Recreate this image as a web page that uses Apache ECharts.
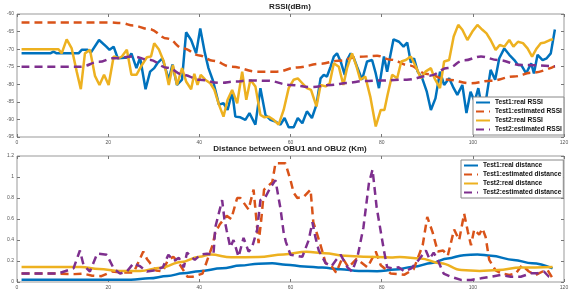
<!DOCTYPE html>
<html>
<head>
<meta charset="UTF-8">
<title>RSSI / distance OBU1-OBU2</title>
<script src="https://cdn.jsdelivr.net/npm/echarts@6/dist/echarts.min.js"></script>
<style>
html, body { margin: 0; padding: 0; background: #fff; }
#main { width: 575px; height: 291px; }
</style>
</head>
<body>
<div id="main"></div>
<script>
// ---- data: [x, value] ----
var rssiReal1 = [[1,-71.2],[7.3,-71.2],[8,-70.7],[8.7,-71.2],[13.5,-71.2],[14.2,-70.2],[15.5,-70.2],[16.2,-71],[18,-67.4],[19.6,-69.3],[20.3,-70.2],[21.2,-69.3],[22.1,-72.6],[24.5,-72.4],[25.1,-71.2],[26.2,-75.4],[27,-72.4],[28.2,-81.4],[29.2,-76.4],[30.1,-75.4],[30.8,-74],[31.9,-72.6],[33.3,-78.7],[34.1,-74.4],[35.1,-80.2],[36.2,-78.7],[37.1,-65.2],[38.2,-67.4],[39.3,-71.2],[40.2,-64.1],[41.2,-71],[42,-75.4],[43,-79],[44.3,-85.8],[45.3,-85.4],[46.2,-87.3],[47.2,-82.1],[47.9,-89.2],[49,-89.4],[50.1,-90.1],[51,-88.2],[52.3,-91.5],[53.4,-81.1],[54.5,-88.7],[55.6,-90.1],[56.7,-90.6],[57.8,-91.5],[58.7,-89.6],[59.6,-92.2],[60.7,-92.2],[61.6,-89.6],[62.6,-91.1],[63.6,-87.7],[64.7,-89.6],[65.7,-85.8],[66.6,-78.3],[67.3,-77.3],[68,-77.8],[68.8,-75],[69.5,-72.1],[70.2,-71.2],[71,-73.5],[71.9,-77.3],[72.4,-73.1],[73.2,-71.2],[73.9,-72.6],[74.6,-75],[75.7,-78.7],[76.8,-73.5],[77.9,-73.1],[78.7,-76.9],[79.4,-81.1],[80.5,-72.1],[81.2,-76.4],[82.6,-67.2],[83.8,-67.9],[84.8,-69.3],[85.6,-68.1],[86.4,-73.8],[87.1,-72.6],[87.9,-76.4],[88.9,-78.3],[89.9,-82.1],[90.8,-87.3],[91.8,-84],[92.8,-76.4],[93.7,-80.2],[94.8,-78.3],[95.8,-81.1],[96.6,-83],[97.7,-80.2],[98.6,-88.2],[99.5,-82.1],[100.4,-84.9],[101.2,-81.1],[102.1,-87.3],[103,-83.5],[103.9,-75.9],[104.9,-78.7],[105.8,-72.6],[106.9,-69.8],[108,-71.6],[109.1,-73.1],[109.9,-74.5],[110.6,-74.5],[111.7,-76.9],[112.8,-74],[113.4,-76.9],[114.2,-71.6],[115.3,-73.1],[116.2,-72.6],[117.1,-71.2],[118,-64.4]];

var rssiEst1 = [[1,-62.4],[10,-62.4],[20,-62.4],[23,-62.6],[25.5,-63.3],[29,-64.3],[33,-67],[36.5,-69.8],[40,-71.8],[43,-73.3],[47,-75],[52.7,-76.4],[57,-76.4],[61.5,-75.2],[66.5,-74.2],[70.5,-73.3],[75,-72.2],[79,-71.9],[82,-73],[86,-74.6],[90,-77.1],[94.5,-78.7],[99.5,-79.7],[104,-79],[109,-77.8],[113,-76.7],[118,-74.8]];

var rssiReal2 = [[1,-70],[9.1,-70],[9.8,-71.2],[10.9,-67.2],[12,-69.8],[13.1,-76.4],[14,-81.4],[14.9,-71.2],[16,-70.2],[17.1,-77.6],[18.1,-80.2],[19.1,-77.3],[20.1,-80.2],[21.2,-72.1],[22.3,-72.6],[23,-72.1],[24.1,-70.2],[25.1,-77.3],[26.2,-77.3],[27.4,-74.5],[28.5,-72.3],[29.4,-72.1],[30.1,-68.3],[31.1,-70],[32.2,-73.5],[33.3,-80.2],[34.2,-74.5],[35.1,-80.2],[36.2,-75.4],[37.1,-79.2],[38.2,-81.4],[38.9,-77],[39.6,-80.2],[40.3,-77.3],[41.3,-78.7],[42.4,-79.7],[43.3,-81.6],[44.3,-85.8],[45.3,-89.2],[46.2,-84.4],[47.2,-81.6],[48.3,-85.4],[49.4,-76.4],[50.3,-84.4],[51.2,-78.7],[52.3,-80.6],[53.4,-88.7],[54.3,-89.4],[55.2,-89.2],[56.3,-90.1],[57.4,-91.5],[58.5,-87.3],[59.6,-81.1],[60.7,-78.7],[61.6,-78.3],[62.6,-79.7],[63.6,-81.1],[64.5,-81.6],[65.7,-86.3],[66.6,-80.2],[67.7,-80.6],[68.6,-79.7],[69.5,-74],[70.6,-75],[71.6,-80.2],[72.4,-75.4],[73.5,-71.2],[74.5,-75],[75.3,-78.7],[76.4,-77.8],[77.5,-83.5],[78.7,-92],[79.8,-87.3],[80.6,-87.3],[81.3,-83],[82.3,-77.3],[83.4,-78.3],[84.3,-73.5],[85.3,-73.1],[86.4,-72.1],[87.5,-75],[88.6,-78.3],[89.6,-76.4],[90.8,-75.4],[91.6,-78.3],[92.8,-81.1],[93.7,-73.5],[94.8,-73.1],[95.8,-66.4],[96.8,-63.1],[97.7,-64.5],[98.8,-67.4],[99.9,-65],[101,-63.1],[102.1,-64.5],[103,-65.5],[103.9,-67.4],[105,-70.2],[105.9,-68.8],[106.9,-69.3],[108,-67.4],[108.9,-69.3],[109.9,-67.9],[111,-68.3],[112,-69.8],[113,-72.1],[114,-69.8],[114.9,-68.3],[115.8,-68.1],[116.9,-67.4],[117.6,-67.2]];

var rssiEst2 = [[1,-75],[14,-75],[18,-73.6],[21,-72.6],[25.5,-72.1],[29,-73],[33,-75.3],[36.5,-77.3],[40,-78.7],[44.5,-79.6],[48,-79.2],[51,-78.9],[55,-79],[60,-80.2],[64.5,-80.8],[69,-80.2],[72.5,-79.6],[76,-79.1],[80,-78.9],[85.5,-78.7],[90.5,-77.6],[94.5,-75.4],[98,-73.2],[101.8,-72.1],[105.5,-73.1],[110.5,-74.5],[118,-74.9]];

var distReal1 = [[1,0.022],[25,0.022],[29,0.035],[33,0.057],[36.5,0.083],[40,0.103],[45,0.13],[49,0.156],[53,0.175],[56,0.178],[59,0.165],[63,0.148],[67,0.137],[71,0.121],[75,0.105],[79,0.103],[83,0.118],[87,0.146],[91,0.18],[94.5,0.225],[98,0.255],[101,0.263],[104,0.25],[109,0.21],[113,0.178],[117.5,0.13]];

var distEst1 = [[1,0.08],[9,0.08],[12.5,0.075],[14.5,0.08],[16.5,0.06],[18.5,0.055],[20.8,0.1],[23.5,0.09],[25.6,0.09],[27.7,0.29],[28.5,0.22],[29.2,0.18],[30.5,0.11],[32,0.1],[33,0.2],[34.3,0.24],[35.5,0.18],[37.4,0.05],[38.5,0.05],[40.7,0.08],[42.9,0.35],[43.5,0.47],[44.5,0.55],[46,0.63],[47,0.6],[48.3,0.8],[49,0.8],[50.8,0.69],[51.9,0.88],[53,0.37],[53.6,0.6],[54.2,0.88],[56,0.95],[56.7,1.13],[58.9,1.13],[60,0.97],[60.7,0.85],[61.5,0.8],[62.9,0.81],[64.4,0.88],[65,0.57],[66.6,0.35],[67.7,0.18],[69,0.15],[70,0.09],[71.4,0.23],[72.7,0.14],[74.5,0.22],[76.9,0.14],[78.7,0.29],[79.8,0.16],[82,0.08],[85,0.07],[87,0.12],[89,0.35],[90,0.62],[91.2,0.47],[92.3,0.29],[93.5,0.3],[94.5,0.25],[95.9,0.5],[97,0.4],[98.1,0.65],[98.9,0.48],[99.6,0.35],[100.3,0.5],[101.4,0.45],[102.1,0.51],[102.8,0.43],[103.6,0.21],[105,0.11],[106.4,0.08],[108,0.067],[109.4,0.08],[110.8,0.16],[112.3,0.1],[113.8,0.067],[115.3,0.1],[116.4,0.114],[117.5,0.035]];

var distReal2 = [[1,0.143],[14,0.143],[18,0.125],[22.5,0.105],[27,0.105],[31.5,0.135],[36,0.19],[40,0.24],[42.5,0.262],[47,0.235],[53,0.238],[58.5,0.263],[63.5,0.288],[67.5,0.273],[72,0.25],[76,0.241],[82,0.233],[84,0.238],[88.5,0.225],[93,0.178],[97.5,0.114],[101.5,0.105],[105.5,0.114],[110.5,0.137],[117.5,0.143]];

var distEst2 = [[1,0.08],[9,0.08],[12.4,0.13],[13.8,0.3],[14.6,0.16],[16,0.1],[17.6,0.27],[19.7,0.26],[21.2,0.13],[22.6,0.08],[24.1,0.1],[25.6,0.18],[26.4,0.16],[27,0.15],[28.5,0.1],[30,0.11],[32,0.14],[33.2,0.26],[34.4,0.2],[35.5,0.23],[36.6,0.14],[37.3,0.28],[39,0.21],[40.2,0.26],[41.7,0.27],[43.1,0.26],[43.5,0.52],[45,0.78],[45.5,0.6],[46,0.49],[46.8,0.33],[47.5,0.4],[48.6,0.24],[49.7,0.42],[50.8,0.29],[51.5,0.32],[52.7,0.5],[53.4,0.78],[54.5,0.81],[55.6,0.9],[56.7,0.97],[57.8,0.7],[58.5,0.47],[59,0.38],[60,0.26],[62.6,0.24],[64,0.4],[64.8,0.57],[65.5,0.42],[66.2,0.3],[67.7,0.18],[69,0.15],[70,0.21],[71,0.26],[72.5,0.14],[73.5,0.1],[74.7,0.24],[76,0.52],[77.2,0.94],[78,1.07],[78.5,0.87],[78.9,0.71],[79.8,0.48],[80.5,0.3],[81.2,0.14],[82.5,0.13],[83.7,0.14],[85,0.1],[86.5,0.13],[88.1,0.21],[89.7,0.3],[90.5,0.22],[91.4,0.28],[92.3,0.21],[93.6,0.08],[95.2,0.05],[97.4,0.02],[99.6,0.02],[101.8,0.035],[103.9,0.05],[106.1,0.067],[108.3,0.05],[110.5,0.05],[112.7,0.083],[114.2,0.083],[115.6,0.1],[116.7,0.05],[117.5,0.035]];

var namesTop = ['Test1:real RSSI', 'Test1:estimated RSSI', 'Test2:real RSSI', 'Test2:estimated RSSI'];
var namesBottom = ['Test1:real distance', 'Test1:estimated distance', 'Test2:real distance', 'Test2:estimated distance'];

// matlab default colours
var cBlue = '#0072BD', cOrange = '#D95319', cYellow = '#EDB120', cPurple = '#7E2F8E';

var chart = echarts.init(document.getElementById('main'));

function xAx(grid, pos, lbl) {
	return {
		type: 'value', gridIndex: grid, position: pos, min: 0, max: 120, interval: 20,
		axisLine: { show: false, onZero: false },
		axisTick: { inside: true, length: 3, lineStyle: { color: '#777' } },
		axisLabel: { show: lbl, fontSize: 5, color: '#555', margin: 3 },
		splitLine: { show: false }
	};
}
function yAx(grid, pos, lbl, mn, mx, step) {
	return {
		type: 'value', gridIndex: grid, position: pos, min: mn, max: mx, interval: step,
		axisLine: { show: false, onZero: false },
		axisTick: { inside: true, length: 3, lineStyle: { color: '#777' } },
		axisLabel: { show: lbl, fontSize: 5, color: '#555', margin: 3 },
		splitLine: { show: false }
	};
}
function line(name, data, color, dashed, ax, smooth) {
	return {
		name: name, type: 'line', data: data,
		xAxisIndex: ax, yAxisIndex: ax,
		showSymbol: false, symbol: 'none',
		smooth: smooth ? 0.4 : false,
		smoothMonotone: smooth ? 'x' : undefined,
		lineStyle: { color: color, width: 2.5, type: dashed ? [8, 5] : 'solid' },
		itemStyle: { color: color }
	};
}
var legendText = { fontSize: 6.6, fontWeight: 'bold', color: '#111', fontFamily: 'Liberation Sans', lineHeight: 7 };
// hide the legend symbol, keep the line
var legendItem = { opacity: 0, borderWidth: 0 };

var option = {
	animation: false,
	backgroundColor: '#fff',
	textStyle: { fontFamily: 'Liberation Sans' },
	title: [
		{ text: 'RSSI(dBm)', left: 290, top: 3, textAlign: 'center', padding: 0,
		  textStyle: { fontSize: 8, fontWeight: 'bold', color: '#222' } },
		{ text: 'Distance between OBU1 and OBU2 (Km)', left: 290, top: 145, textAlign: 'center', padding: 0,
		  textStyle: { fontSize: 8, fontWeight: 'bold', color: '#222' } }
	],
	legend: [
		{ data: namesTop, orient: 'vertical', left: 473, top: 97, padding: [2, 2], itemGap: 2,
		  itemWidth: 14, itemHeight: 7, backgroundColor: '#fff', borderColor: '#888', borderWidth: 1,
		  itemStyle: legendItem, textStyle: legendText },
		{ data: namesBottom, orient: 'vertical', left: 461, top: 160, padding: [2, 2], itemGap: 2,
		  itemWidth: 14, itemHeight: 7, backgroundColor: '#fff', borderColor: '#888', borderWidth: 1,
		  itemStyle: legendItem, textStyle: legendText }
	],
	grid: [
		{ left: 17, top: 14, width: 547, height: 123, show: true, borderColor: '#999', borderWidth: 1 },
		{ left: 17, top: 156, width: 547, height: 126, show: true, borderColor: '#999', borderWidth: 1 }
	],
	xAxis: [xAx(0, 'bottom', true), xAx(0, 'top', false), xAx(1, 'bottom', true), xAx(1, 'top', false)],
	yAxis: [
		yAx(0, 'left', true, -95, -60, 5), yAx(0, 'right', false, -95, -60, 5),
		yAx(1, 'left', true, 0, 1.2, 0.2), yAx(1, 'right', false, 0, 1.2, 0.2)
	],
	series: [
		line(namesTop[0], rssiReal1, cBlue, false, 0, false),
		line(namesTop[1], rssiEst1, cOrange, true, 0, true),
		line(namesTop[2], rssiReal2, cYellow, false, 0, false),
		line(namesTop[3], rssiEst2, cPurple, true, 0, true),
		line(namesBottom[0], distReal1, cBlue, false, 2, true),
		line(namesBottom[1], distEst1, cOrange, true, 2, false),
		line(namesBottom[2], distReal2, cYellow, false, 2, true),
		line(namesBottom[3], distEst2, cPurple, true, 2, false)
	]
};
chart.setOption(option);
</script>
</body>
</html>
